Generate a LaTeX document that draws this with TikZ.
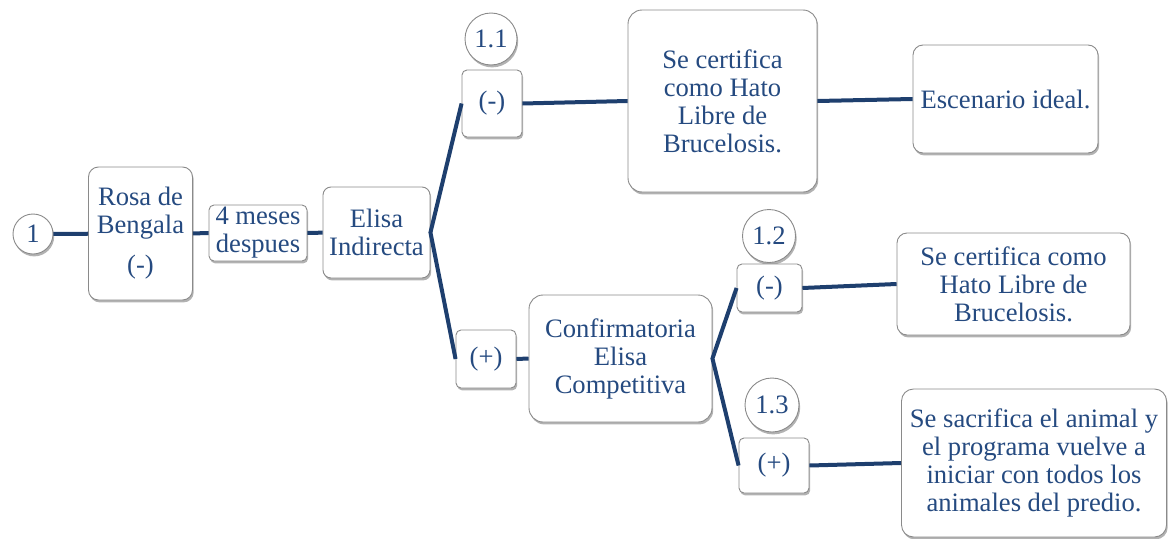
\documentclass[tikz,border=0pt]{standalone}
\usepackage{fontspec}
\setmainfont{Liberation Serif}
\usetikzlibrary{shadows}
\definecolor{txtblue}{HTML}{254A80}
\definecolor{linkblue}{HTML}{1E3F6E}
\definecolor{edgegray}{HTML}{8A8A8A}
\tikzset{
  base/.style={draw=edgegray, line width=0.9pt, fill=white, text=txtblue,
    align=center, inner sep=0pt,
    font=\fontsize{26.6}{28}\selectfont,
    drop shadow={shadow xshift=1.2pt, shadow yshift=-2.4pt, opacity=0.3, fill=black}},
  box/.style={base, rectangle, rounded corners=#1},
  box/.default=10pt,
  num/.style={base, circle},
  link/.style={draw=linkblue, line width=4pt}
}
\begin{document}
\begin{tikzpicture}[x=1pt,y=-1pt]
\useasboundingbox (0,0) rectangle (1169,538);

% main line
\node[num, minimum size=40pt] (c1) at (33,234) {1};
\node[box, minimum width=104pt, minimum height=133pt] (rb) at (140.5,233.5) {Rosa de\\Bengala\\[12pt](-)};
\node[box=5pt, minimum width=98pt, minimum height=56pt] (m4) at (258,233) {4 meses\\despues};
\node[box=8pt, minimum width=107pt, minimum height=91pt] (ei) at (376.5,232.5) {Elisa\\Indirecta};

% upper branch
\node[num, minimum size=52pt] (n11) at (491,39) {1.1};
\node[box=5pt, minimum width=60pt, minimum height=67pt] (mA) at (492,103.5) {(-)};
\node[box=14pt, minimum width=189pt, minimum height=182pt] (sc1) at (722.5,101) {Se certifica\\como Hato\\Libre de\\Brucelosis.};
\node[box, minimum width=185pt, minimum height=108pt] (esc) at (1005.5,99) {Escenario ideal.};

% lower branch
\node[box=5pt, minimum width=60pt, minimum height=58pt] (pB) at (486,359) {(+)};
\node[box=14pt, minimum width=183pt, minimum height=127pt] (conf) at (620.5,358.5) {Confirmatoria\\Elisa\\Competitiva};

\node[num, minimum size=53pt] (n12) at (769,236) {1.2};
\node[box=5pt, minimum width=65pt, minimum height=48pt] (mC) at (769.5,288) {(-)};
\node[box, minimum width=233pt, minimum height=102pt] (sc2) at (1013.5,284) {Se certifica como\\Hato Libre de\\Brucelosis.};

\node[num, minimum size=54pt] (n13) at (772,405) {1.3};
\node[box=5pt, minimum width=70pt, minimum height=55pt] (pD) at (774,465.5) {(+)};
\node[box=12pt, minimum width=265pt, minimum height=148pt] (sac) at (1034,463) {Se sacrifica el animal y\\el programa vuelve a\\iniciar con todos los\\animales del predio.};

% connectors
\path[link] (c1) -- (rb);
\path[link] (rb) -- (m4);
\path[link] (m4) -- (ei);
\path[link] (mA.west) -- (ei.east) -- (pB.west);
\path[link] (mA.east) -- (sc1.west);
\path[link] (sc1.east) -- (esc.west);
\path[link] (pB.east) -- (conf.west);
\path[link] (mC.west) -- (conf.east) -- (pD.west);
\path[link] (mC.east) -- (sc2.west);
\path[link] (pD.east) -- (sac.west);
\end{tikzpicture}
\end{document}
